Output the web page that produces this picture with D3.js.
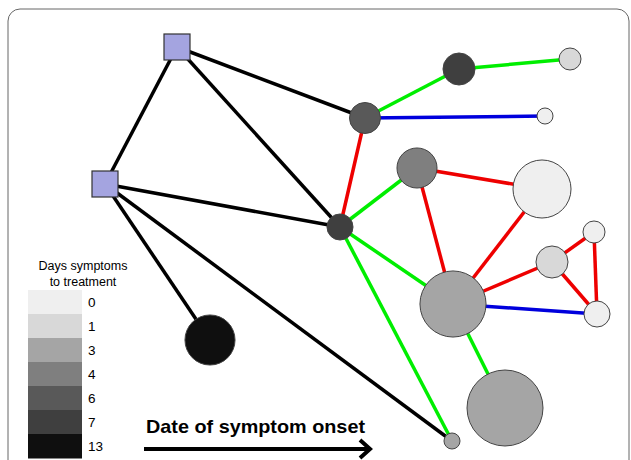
<!DOCTYPE html>
<html>
<head>
<meta charset="utf-8">
<script src="https://cdn.jsdelivr.net/npm/d3@7"></script>
<style>
  body { margin: 0; background: #fff; }
  text { font-family: Arial, "Liberation Sans", sans-serif; }
</style>
</head>
<body>
<div id="viz"></div>
<script>
const width = 631;
const height = 460;

// legend categories: days from symptoms to treatment
const dayLevels = ["0", "1", "3", "4", "6", "7", "13"];
const dayColors = ["#efefef", "#d8d8d8", "#a5a5a5", "#7f7f7f", "#595959", "#3f3f3f", "#0f0f0f"];

// sources (squares) and cases (circles); x ~ date of symptom onset, y = layout row
const nodeIds   = ["A", "B", "C", "D", "E", "F", "G", "H", "I", "J", "K", "L", "M", "N", "O", "P"];
const nodeKind  = ["src", "src", "case", "case", "case", "case", "case", "case", "case", "case", "case", "case", "case", "case", "case", "case"];
const nodeX     = [17.7, 10.5, 36.5, 45.9, 57.0, 54.5, 41.7, 54.2, 34.0, 45.3, 55.2, 59.4, 59.7, 50.5, 45.2, 21.0];
const nodeY     = [4.7, 18.4, 11.8, 6.9, 5.9, 11.6, 16.8, 18.9, 22.7, 30.4, 26.2, 23.2, 31.4, 40.8, 44.1, 34.0];
const nodeDays  = [null, null, "6", "7", "1", "0", "4", "0", "7", "3", "1", "0", "0", "3", "3", "13"];
const nodeSize  = [null, null, 2.4, 2.56, 1.21, 0.64, 4.0, 8.4, 1.69, 10.9, 2.56, 1.21, 1.69, 14.4, 0.64, 6.25];

// links: source, target, type
const linkFrom = ["A", "A", "A", "B", "B", "B", "C", "D", "I", "I", "I", "J", "C", "J", "C", "G", "G", "H", "J", "K", "K", "L"];
const linkTo   = ["B", "C", "I", "I", "P", "O", "D", "E", "G", "J", "O", "N", "F", "M", "I", "H", "J", "J", "K", "L", "M", "M"];
const linkType = ["src", "src", "src", "src", "src", "src", "g", "g", "g", "g", "g", "g", "b", "b", "r", "r", "r", "r", "r", "r", "r", "r"];

const linkColor = { src: "#000000", g: "#00ee00", b: "#0000dd", r: "#ee0000" };

const x = d3.scaleLinear().domain([0, 60]).range([0, 600]);
const y = d3.scaleLinear().domain([0, 46]).range([0, 460]);
const r = d3.scaleSqrt().domain([0, 14.4]).range([0, 38]);
const dayColor = d3.scaleOrdinal().domain(dayLevels).range(dayColors);

const nodes = nodeIds.map((id, i) => ({ id, kind: nodeKind[i], x: nodeX[i], y: nodeY[i], days: nodeDays[i], size: nodeSize[i] }));
const byId = new Map(nodes.map(d => [d.id, d]));
const links = linkFrom.map((s, i) => ({ s: byId.get(s), t: byId.get(linkTo[i]), type: linkType[i] }));

const svg = d3.select("#viz").append("svg").attr("width", width).attr("height", height);

// frame
svg.append("rect")
  .attr("x", 8).attr("y", 9).attr("width", 621).attr("height", 470)
  .attr("rx", 12)
  .attr("fill", "none").attr("stroke", "#666").attr("stroke-width", 1);

// links
svg.append("g").selectAll("line")
  .data(links)
  .join("line")
    .attr("x1", d => x(d.s.x)).attr("y1", d => y(d.s.y))
    .attr("x2", d => x(d.t.x)).attr("y2", d => y(d.t.y))
    .attr("stroke", d => linkColor[d.type])
    .attr("stroke-width", 3.5);

// cases
svg.append("g").selectAll("circle")
  .data(nodes.filter(d => d.kind === "case"))
  .join("circle")
    .attr("cx", d => x(d.x)).attr("cy", d => y(d.y))
    .attr("r", d => r(d.size))
    .attr("fill", d => dayColor(d.days))
    .attr("stroke", "#444").attr("stroke-width", 1);

// sources
const sq = 26;
svg.append("g").selectAll("rect")
  .data(nodes.filter(d => d.kind === "src"))
  .join("rect")
    .attr("x", d => x(d.x) - sq / 2).attr("y", d => y(d.y) - sq / 2)
    .attr("width", sq).attr("height", sq)
    .attr("fill", "#a4a4e0")
    .attr("stroke", "#333").attr("stroke-width", 1.2);

// legend
const legend = svg.append("g").attr("transform", "translate(28, 290)");
legend.append("text").attr("x", 55).attr("y", -20).attr("text-anchor", "middle")
  .attr("font-size", 12.5).text("Days symptoms");
legend.append("text").attr("x", 55).attr("y", -4).attr("text-anchor", "middle")
  .attr("font-size", 12.5).text("to treatment");

const ly = d3.scaleBand().domain(dayLevels).range([0, 168]);
legend.selectAll(".sw")
  .data(dayLevels)
  .join("rect")
    .attr("class", "sw")
    .attr("x", 0).attr("y", d => ly(d))
    .attr("width", 54).attr("height", ly.bandwidth() + 0.5)
    .attr("fill", d => dayColor(d));
legend.selectAll(".lb")
  .data(dayLevels)
  .join("text")
    .attr("class", "lb")
    .attr("x", 60).attr("y", d => ly(d) + ly.bandwidth() / 2 + 5)
    .attr("font-size", 13.5)
    .text(d => d);

// time arrow
svg.append("text").attr("x", 146).attr("y", 433)
  .attr("font-size", 18.5).attr("font-weight", "bold")
  .attr("textLength", 219).attr("lengthAdjust", "spacingAndGlyphs")
  .text("Date of symptom onset");
svg.append("line").attr("x1", 144).attr("y1", 449).attr("x2", 369).attr("y2", 449)
  .attr("stroke", "#000").attr("stroke-width", 4);
svg.append("path").attr("d", "M360,440 L370,449 L360,458")
  .attr("fill", "none").attr("stroke", "#000").attr("stroke-width", 4);
</script>
</body>
</html>
